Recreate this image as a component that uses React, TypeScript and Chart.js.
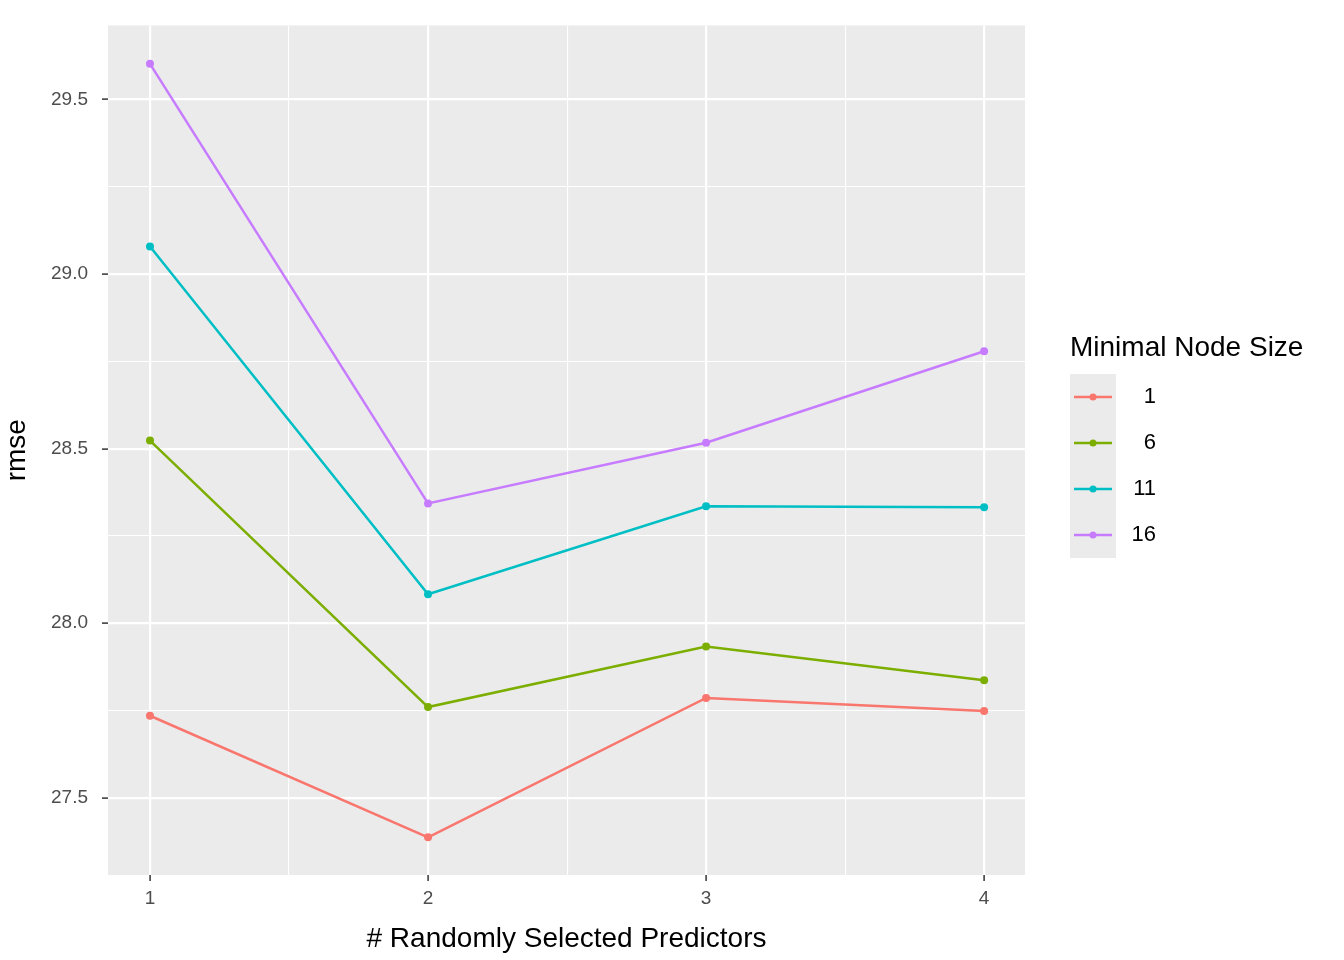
import React, { useEffect, useRef } from "react";
import { Chart, registerables } from "chart.js";
Chart.register(...registerables);

const predictors = [1, 2, 3, 4];
const nodeSizes = ["1", "6", "11", "16"];
const rmse1 = [27.735, 27.387, 27.786, 27.749];
const rmse6 = [28.523, 27.76, 27.933, 27.837];
const rmse11 = [29.079, 28.083, 28.335, 28.332];
const rmse16 = [29.602, 28.343, 28.517, 28.779];
const colors = ["#F8766D", "#7CAE00", "#00BFC4", "#C77CFF"];
const yTicks = [27.5, 27.75, 28, 28.25, 28.5, 28.75, 29, 29.25, 29.5];
const xTicks = [1, 1.5, 2, 2.5, 3, 3.5, 4];

const FONT = "'Liberation Sans', Arial, sans-serif";

export default function App() {
  const ref = useRef<HTMLCanvasElement>(null);
  useEffect(() => {
    const series = [rmse1, rmse6, rmse11, rmse16];
    const bg = {
      id: "bg",
      beforeDraw(c: any) {
        const { ctx, chartArea: a } = c;
        ctx.save();
        ctx.fillStyle = "#EBEBEB";
        ctx.fillRect(a.left, a.top, a.right - a.left, a.bottom - a.top);
        ctx.restore();
      },
      afterDraw(c: any) {
        const ctx = c.ctx;
        ctx.save();
        ctx.fillStyle = "#000";
        ctx.font = `28px ${FONT}`;
        ctx.textBaseline = "middle";
        ctx.fillText("Minimal Node Size", 1070, 348);
        ctx.fillStyle = "#EBEBEB";
        ctx.fillRect(1070, 374, 46, 184);
        nodeSizes.forEach((n, i) => {
          const y = 397 + i * 46;
          ctx.strokeStyle = colors[i];
          ctx.lineWidth = 2.5;
          ctx.beginPath();
          ctx.moveTo(1074, y);
          ctx.lineTo(1112, y);
          ctx.stroke();
          ctx.fillStyle = colors[i];
          ctx.beginPath();
          ctx.arc(1093, y, 3.5, 0, Math.PI * 2);
          ctx.fill();
          ctx.fillStyle = "#000";
          ctx.font = `22px ${FONT}`;
          ctx.textAlign = "right";
          ctx.fillText(n, 1156, y);
          ctx.textAlign = "left";
        });
        ctx.restore();
      },
    };
    const isMajor = (v: number) => Math.abs(v - Math.round(v)) < 1e-6;
    const isMajorY = (v: number) => Math.abs(v * 2 - Math.round(v * 2)) < 1e-6;
    const chart = new Chart(ref.current!, {
      type: "line",
      data: {
        datasets: series.map((s, i) => ({
          label: nodeSizes[i],
          data: s.map((v, j) => ({ x: predictors[j], y: v })),
          borderColor: colors[i],
          backgroundColor: colors[i],
          borderWidth: 2.5,
          pointRadius: 4,
          pointBorderWidth: 0,
        })),
      },
      options: {
        animation: false,
        responsive: false,
        layout: { padding: { top: 15, right: 319, left: 0, bottom: 0 } },
        plugins: { legend: { display: false }, tooltip: { enabled: false } },
        scales: {
          x: {
            type: "linear",
            min: 0.849,
            max: 4.147,
            afterBuildTicks: (s: any) => { s.ticks = xTicks.map((v) => ({ value: v })); },
            afterFit: (s: any) => { s.height = 85; },
            border: { display: false },
            grid: {
              color: "#FFFFFF",
              lineWidth: (c: any) => (isMajor(c.tick?.value) ? 2.2 : 1.1),
              tickColor: (c: any) => (isMajor(c.tick?.value) ? "#333333" : "rgba(0,0,0,0)"),
              tickLength: 6,
              tickWidth: 1.5,
            } as any,
            ticks: {
              color: "#4D4D4D",
              font: { size: 19, family: FONT },
              padding: 6,
              callback: (v: any) => (isMajor(Number(v)) ? String(v) : ""),
              maxRotation: 0,
              autoSkip: false,
            },
            title: { display: true, text: "# Randomly Selected Predictors", color: "#000", font: { size: 28, family: FONT }, padding: { top: 0 } },
          },
          y: {
            type: "linear",
            min: 27.279,
            max: 29.712,
            afterBuildTicks: (s: any) => { s.ticks = yTicks.map((v) => ({ value: v })); },
            afterFit: (s: any) => { s.width = 108; },
            border: { display: false },
            grid: {
              color: "#FFFFFF",
              lineWidth: (c: any) => (isMajorY(c.tick?.value) ? 2.2 : 1.1),
              tickColor: (c: any) => (isMajorY(c.tick?.value) ? "#333333" : "rgba(0,0,0,0)"),
              tickLength: 6,
              tickWidth: 1.5,
            } as any,
            ticks: {
              color: "#4D4D4D",
              font: { size: 19, family: FONT },
              padding: 14,
              callback: (v: any) => (isMajorY(Number(v)) ? Number(v).toFixed(1) : ""),
              autoSkip: false,
            },
            title: { display: true, text: "rmse", color: "#000", font: { size: 28, family: FONT }, padding: { top: 0, bottom: 0 } },
          },
        },
      } as any,
      plugins: [bg],
    });
    return () => chart.destroy();
  }, []);
  return (
    <div style={{ position: "fixed", left: 0, top: 0, width: 1344, height: 960, background: "#fff" }}>
      <canvas ref={ref} width={1344} height={960} style={{ width: 1344, height: 960 }} />
    </div>
  );
}
